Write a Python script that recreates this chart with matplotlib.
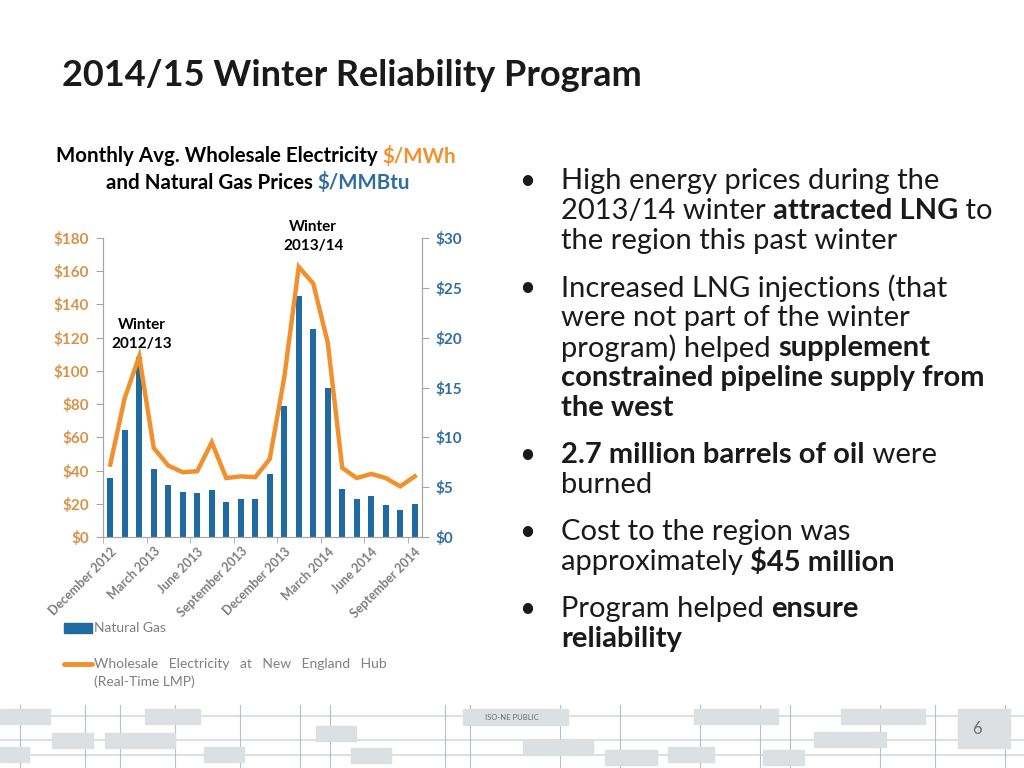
import matplotlib
matplotlib.use('Agg')
import matplotlib.pyplot as plt
from matplotlib.patches import Rectangle
from matplotlib.lines import Line2D

plt.rcParams['font.family'] = ['Lato', 'DejaVu Sans']

months = ['December 2012', 'January 2013', 'February 2013', 'March 2013', 'April 2013',
          'May 2013', 'June 2013', 'July 2013', 'August 2013', 'September 2013',
          'October 2013', 'November 2013', 'December 2013', 'January 2014',
          'February 2014', 'March 2014', 'April 2014', 'May 2014', 'June 2014',
          'July 2014', 'August 2014', 'September 2014']
gas = [5.9, 10.7, 18.1, 6.8, 5.2, 4.5, 4.4, 4.7, 3.5, 3.8, 3.8, 6.3,
       13.1, 24.2, 20.9, 14.9, 4.8, 3.8, 4.1, 3.2, 2.7, 3.3]
elec = [43.6, 83.7, 108.8, 53.6, 43.0, 39.0, 39.6, 57.0, 35.5, 36.5, 36.0, 47.0,
        96.0, 162.6, 152.6, 117.0, 41.6, 35.5, 38.0, 35.5, 30.5, 36.5]
left_ticks = [0, 20, 40, 60, 80, 100, 120, 140, 160, 180]
right_ticks = [0, 5, 10, 15, 20, 25, 30]

ORANGE = '#F0912E'
ORANGE_TXT = '#D8924A'
BLUE = '#1F6AA0'
BLUE_TXT = '#2F6E9E'
GREY = '#7F7F7F'

W, H = 1024, 768
fig = plt.figure(figsize=(W / 100, H / 100), dpi=100)
renderer = fig.canvas.get_renderer()

def fx(px):
    return px / W

def fy(py):
    return 1 - py / H

# chart
ax = fig.add_axes([fx(103), fy(537), fx(422) - fx(103), fy(238) - fy(537)])
ax2 = ax.twinx()
x = list(range(len(months)))
ax2.bar(x, gas, width=0.4, color=BLUE)
ax.plot(x, elec, color=ORANGE, linewidth=3.2, solid_joinstyle='miter')
ax.set_zorder(ax2.get_zorder() + 1)
ax.patch.set_visible(False)

ax.set_xlim(-0.5, len(months) - 0.5)
ax.set_ylim(0, 180)
ax2.set_ylim(0, 30)
ax.set_yticks(left_ticks)
ax.set_yticklabels(['$%d' % v for v in left_ticks])
ax2.set_yticks(right_ticks)
ax2.set_yticklabels(['$%d' % v for v in right_ticks])
for a in (ax, ax2):
    a.spines['top'].set_visible(False)
    for s in ('left', 'right', 'bottom'):
        a.spines[s].set_color('#A6A6A6')
ax.tick_params(axis='y', colors='#A6A6A6', labelcolor=ORANGE_TXT, length=5, pad=5)
ax2.tick_params(axis='y', colors='#A6A6A6', labelcolor=BLUE_TXT, length=5, pad=5)
for lab in ax.get_yticklabels() + ax2.get_yticklabels():
    lab.set_fontweight('bold')
    lab.set_fontsize(11)

ax.set_xticks(x[::3])
ax.set_xticklabels(months[::3], rotation=45, ha='right', rotation_mode='anchor',
                   fontsize=9, fontweight='bold', color=GREY)
ax.tick_params(axis='x', which='major', length=0, pad=6)
ax.set_xticks([i - 0.5 for i in x[::3]], minor=True)
ax.tick_params(axis='x', which='minor', length=4, color='#A6A6A6')

ax.text(2.2, 122, 'Winter\n2012/13', ha='center', va='center', fontsize=11,
        fontweight='bold', linespacing=1.5)
ax.text(14, 181, 'Winter\n2013/14', ha='center', va='center', fontsize=11,
        fontweight='bold', linespacing=1.5, clip_on=False)


def runs(x0, y0, parts, size, ha='left'):
    items = []
    total = 0
    for txt, color, bold in parts:
        t = fig.text(0, fy(y0), txt, fontsize=size, color=color,
                     fontweight='bold' if bold else 'normal', va='center')
        w = t.get_window_extent(renderer).width
        items.append((t, w))
        total += w
    if ha == 'center':
        x0 = x0 - total / 2
    for t, w in items:
        t.set_x(fx(x0))
        x0 += w


runs(256, 156, [('Monthly Avg. Wholesale Electricity ', 'black', True),
                ('$/MWh', ORANGE, True)], 14.8, ha='center')
runs(258, 183, [('and Natural Gas Prices ', 'black', True),
                ('$/MMBtu', BLUE_TXT, True)], 14.8, ha='center')

# title
fig.text(fx(62), fy(75), '2014/15 Winter Reliability Program', fontsize=26,
         fontweight='bold', color='#1a1a1a', va='center')

# legend
fig.patches.append(Rectangle((fx(64), fy(633)), fx(28), fy(623) - fy(633),
                             transform=fig.transFigure, color=BLUE))
fig.text(fx(94), fy(628), 'Natural Gas', fontsize=10, color=GREY, va='center')
fig.lines.append(Line2D([fx(64), fx(92)], [fy(664), fy(664)], transform=fig.transFigure,
                        color=ORANGE, linewidth=3.5, solid_capstyle='round'))
fig.text(fx(94), fy(664), 'Wholesale   Electricity   at   New   England   Hub',
         fontsize=10, color=GREY, va='center')
fig.text(fx(94), fy(682), '(Real-Time LMP)', fontsize=10, color=GREY, va='center')

# bullets
TXT = '#1a1a1a'
lines = [
    (181, True, [('High energy prices during the', False)]),
    (211, False, [('2013/14 winter ', False), ('attracted LNG', True), (' to', False)]),
    (241, False, [('the region this past winter', False)]),
    (288, True, [('Increased LNG injections (that', False)]),
    (318, False, [('were not part of the winter', False)]),
    (348, False, [('program) helped ', False), ('supplement', True)]),
    (378, False, [('constrained pipeline supply from', True)]),
    (408, False, [('the west', True)]),
    (455, True, [('2.7 million barrels of oil', True), (' were', False)]),
    (485, False, [('burned', False)]),
    (532, True, [('Cost to the region was', False)]),
    (562, False, [('approximately ', False), ('$45 million', True)]),
    (609, True, [('Program helped ', False), ('ensure', True)]),
    (639, False, [('reliability', True)]),
]
for y, bullet, parts in lines:
    if bullet:
        fig.text(fx(527), fy(y), '\u2022', fontsize=20, color=TXT, va='center', ha='center')
    runs(561, y, [(t, TXT, b) for t, b in parts], 21)

# footer decoration
BOX = '#DCE0E3'
LINE = '#B9C1C7'
boxes = [(0, 709, 50, 15), (145, 709, 55, 15), (52, 733, 41, 15), (105, 733, 70, 15),
         (0, 747, 29, 15), (204, 747, 40, 15), (316, 726, 40, 15), (351, 748, 40, 15),
         (523, 740, 70, 15), (605, 750, 52, 15), (668, 747, 46, 15), (694, 709, 84, 15),
         (763, 750, 41, 15), (814, 732, 72, 15), (841, 709, 84, 15)]
for bx, by, bw, bh in boxes:
    fig.patches.append(Rectangle((fx(bx), fy(by + bh)), fx(bw), fy(by) - fy(by + bh),
                                 transform=fig.transFigure, color=BOX, zorder=0))
for seg in [((0, 1024), (716, 716)), ((0, 1024), (740, 740)), ((0, 1024), (755, 755))]:
    fig.lines.append(Line2D([fx(seg[0][0]), fx(seg[0][1])], [fy(seg[1][0]), fy(seg[1][1])],
                            transform=fig.transFigure, color=BOX, linewidth=1.5, zorder=-1))
for vx in [20, 85, 120, 175, 240, 300, 330, 445, 470, 560, 620, 700, 760, 790, 880, 935, 1005]:
    fig.lines.append(Line2D([fx(vx), fx(vx)], [fy(705), fy(768)], transform=fig.transFigure,
                            color=LINE, linewidth=0.8, zorder=-1))
fig.patches.append(Rectangle((fx(463), fy(725)), fx(105), fy(709) - fy(725),
                             transform=fig.transFigure, color=BOX, zorder=1))
fig.text(fx(512), fy(717), 'ISO-NE PUBLIC', fontsize=5.5, color='#6d6d6d',
         ha='center', va='center', zorder=2)
fig.patches.append(Rectangle((fx(958), fy(748)), fx(52), fy(709) - fy(748),
                             transform=fig.transFigure, color=BOX, zorder=1))
fig.text(fx(977), fy(729), '6', fontsize=12, color='#6d6d6d', ha='center',
         va='center', zorder=2)

fig.savefig('out.png', dpi=100)
